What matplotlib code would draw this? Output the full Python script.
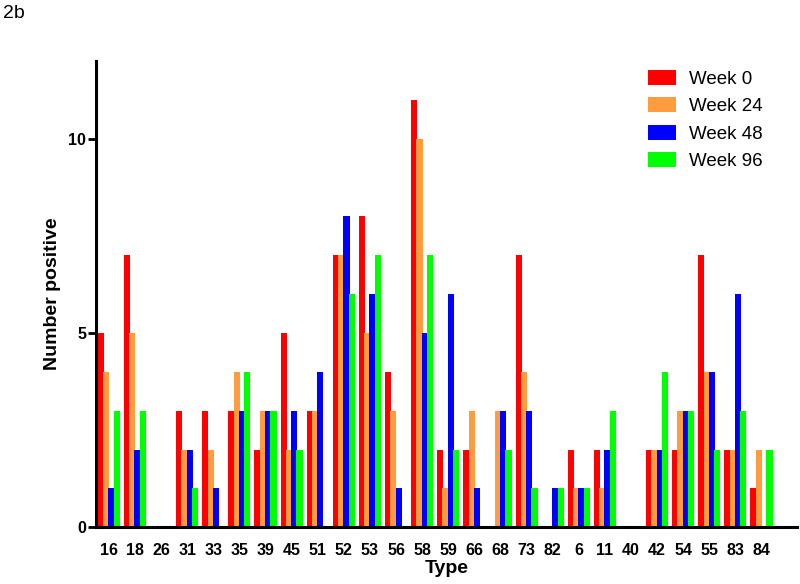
import matplotlib
matplotlib.use("Agg")
import matplotlib.pyplot as plt
import numpy as np

# Typer (x-akse) og antal positive pr. uge
typer = ["16", "18", "26", "31", "33", "35", "39", "45", "51", "52", "53", "56", "58",
         "59", "66", "68", "73", "82", "6", "11", "40", "42", "54", "55", "83", "84"]
uge_0 = [5, 7, 0, 3, 3, 3, 2, 5, 3, 7, 8, 4, 11, 2, 2, 0, 7, 0, 2, 2, 0, 2, 2, 7, 2, 1]
uge_24 = [4, 5, 0, 2, 2, 4, 3, 2, 3, 7, 5, 3, 10, 1, 3, 3, 4, 0, 1, 1, 0, 2, 3, 4, 2, 2]
uge_48 = [1, 2, 0, 2, 1, 3, 3, 3, 4, 8, 6, 1, 5, 6, 1, 3, 3, 1, 1, 2, 0, 2, 3, 4, 6, 0]
uge_96 = [3, 3, 0, 1, 0, 4, 3, 2, 0, 6, 7, 0, 7, 2, 0, 2, 1, 1, 1, 3, 0, 4, 3, 2, 3, 2]

serier = [
    ("Week 0", uge_0, "#FF0000"),
    ("Week 24", uge_24, "#FF9C40"),
    ("Week 48", uge_48, "#0000FF"),
    ("Week 96", uge_96, "#00FF00"),
]

FONT = ["Liberation Sans", "DejaVu Sans"]

fig = plt.figure(figsize=(8, 5.84), dpi=100)
ax = fig.add_axes([0.12, 0.097, 0.876, 0.799])

x = np.arange(len(typer))
step = 0.204
bredde = 0.235
for i, (navn, vals, farve) in enumerate(serier):
    ax.bar(x + (i - 1.5) * step, vals, width=bredde, color=farve, label=navn,
           linewidth=0, zorder=2 + i)

ax.set_xlim(-0.49, 26.35)
ax.set_ylim(0, 12)
ax.set_yticks([0, 5, 10])
ax.set_xticks(x)
ax.set_xticklabels(typer)

for s in ["top", "right"]:
    ax.spines[s].set_visible(False)
for s in ["left", "bottom"]:
    ax.spines[s].set_linewidth(2.2)
    ax.spines[s].set_zorder(10)

ax.tick_params(axis="y", direction="out", length=6, width=2, labelsize=11.5, pad=1)
ax.tick_params(axis="x", length=0, labelsize=11.5, pad=11)
for lbl in ax.get_xticklabels() + ax.get_yticklabels():
    lbl.set_fontweight("bold")
    lbl.set_family(FONT)

ax.set_xlabel("Type", fontsize=14, fontweight="bold", family=FONT, labelpad=2)
ax.set_ylabel("Number positive", fontsize=14, fontweight="bold", family=FONT,
              labelpad=5)

leg = fig.legend(loc="upper left", bbox_to_anchor=(0.81, 0.880), frameon=False,
                 prop={"family": FONT, "size": 13.5},
                 handlelength=1.5, handleheight=0.85, labelspacing=0.5,
                 handletextpad=0.7, borderpad=0, borderaxespad=0)

fig.text(0.004, 0.992, "2b", fontsize=14, va="top", ha="left", family=FONT)

fig.savefig("out.png", dpi=100)
